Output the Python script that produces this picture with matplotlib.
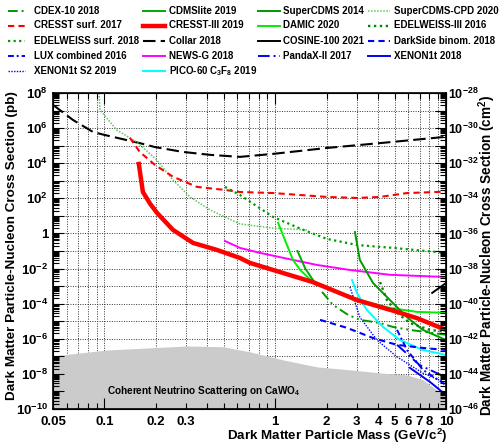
import matplotlib
matplotlib.use("Agg")
import matplotlib.pyplot as plt
from matplotlib.lines import Line2D

plt.rcParams['font.family'] = ['Liberation Sans', 'DejaVu Sans']
plt.rcParams['font.weight'] = 'bold'
plt.rcParams['mathtext.fontset'] = 'custom'
plt.rcParams['mathtext.rm'] = 'Liberation Sans:bold'
plt.rcParams['mathtext.it'] = 'Liberation Sans:bold'
plt.rcParams['mathtext.bf'] = 'Liberation Sans:bold'

# --- data: mass (GeV/c^2), cross section (pb) ---
collar_m = [0.05, 0.0655, 0.0858, 0.1, 0.161, 0.198, 0.288, 0.415, 0.622, 0.971, 2.01, 4.11, 10]
collar_s = [2.1e7, 2.9e6, 6.0e5, 4.1e5, 1.4e5, 8.3e4, 4.4e4, 3.0e4, 2.3e4, 3.4e4, 7.4e4, 1.4e5, 3.2e5]

cresst3_m = [0.159, 0.168, 0.185, 0.203, 0.252, 0.330, 0.456, 0.622, 0.711, 1.66, 3.01, 5.17, 6.76, 10]
cresst3_s = [9.1e3, 2.3e2, 50, 15, 1.6, 0.29, 0.115, 0.040, 0.021, 1.7e-3, 1.6e-4, 3.4e-5, 1.5e-5, 3.2e-6]

cresst_surf_m = [0.141, 0.161, 0.198, 0.252, 0.348, 0.508, 0.622, 0.971, 2.01, 3.01, 4.11, 5.91, 10]
cresst_surf_s = [2.8e5, 4.4e4, 7.9e3, 1.7e3, 4.5e2, 3.0e2, 2.3e2, 2.0e2, 1.2e2, 1.05e2, 1.2e2, 2.0e2, 2.4e2]

news_m = [0.508, 0.622, 0.815, 1.27, 1.76, 2.74, 4.70, 10]
news_s = [0.37, 0.15, 0.078, 0.031, 0.016, 8.3e-3, 4.4e-3, 3.3e-3]

cpd_m = [0.093, 0.0942, 0.118, 0.155, 0.203, 0.252, 0.317, 0.415, 0.522, 0.622, 0.971, 1.54]
cpd_s = [1e8, 1.1e7, 7.8e5, 1.6e5, 1.5e4, 1.1e3, 1.2e2, 22, 7.6, 3.5, 2.0, 1.6]

edw_surf_m = [0.508, 0.622, 0.971, 1.46, 2.01, 3.01, 4.90, 10]
edw_surf_s = [4.5e2, 1.55e2, 8.7, 1.6, 0.49, 0.22, 0.15, 0.078]

damic_m = [1.04, 1.27, 1.40, 1.66, 2.18, 3.13, 4.70, 6.76, 10]
damic_s = [4.0, 3.1e-2, 8.3e-3, 1.7e-3, 6.0e-4, 1.6e-4, 5.7e-5, 3.4e-5, 3.0e-5]

scdms14_m = [2.93, 3.13, 3.74, 4.70, 5.91, 7.33, 10]
scdms14_s = [1.2, 3.1e-2, 1.5e-3, 1.6e-4, 1.7e-5, 3.2e-6, 8.5e-7]

cdmslite_m = [1.35, 1.50, 1.71]
cdmslite_s = [1.0e-1, 1.0e-2, 1.5e-3]

cdex_m = [1.88, 2.18, 2.67, 3.13, 4.11, 4.90, 6.15, 10]
cdex_s = [4.7e-4, 8.5e-5, 2.3e-5, 1.2e-5, 7.9e-6, 4.7e-6, 3.2e-6, 1.7e-6]

edw3_m = [4.11, 4.51, 5.17, 6.15, 8.05, 10]
edw3_s = [1.7e-3, 1.6e-4, 3.0e-5, 7.9e-6, 3.2e-6, 2.5e-6]

pico_m = [2.82, 3.01, 3.44, 4.28, 5.38, 7.33, 10]
pico_s = [2.2e-3, 4.1e-4, 4.4e-5, 4.7e-6, 8.5e-7, 2.3e-7, 1.2e-7]

darkside_m = [1.83, 2.63, 3.74, 5.17, 7.33, 10]
darkside_s = [1.2e-5, 4.2e-6, 1.1e-6, 4.5e-7, 3.0e-7, 2.3e-7]

xe_s2_m = [2.74, 3.13, 3.94, 5.17, 7.33, 10]
xe_s2_s = [8.9e-4, 1.7e-5, 8.5e-7, 9.3e-8, 1.1e-8, 3.1e-9]

lux_m = [5.17, 5.91, 7.33, 10]
lux_s = [3.2e-6, 2.3e-7, 1.7e-8, 2.3e-9]

pandax_m = [5.17, 7.0, 10]
pandax_s = [4.5e-7, 3.2e-8, 6.3e-9]

xe1t_m = [6.15, 8.05, 10]
xe1t_s = [2.2e-8, 3.5e-9, 6.3e-10]

cosine_m = [8.3, 10]
cosine_s = [4.1e-4, 1.5e-3]

nu_m = [0.05, 0.104, 0.305, 0.494, 0.711, 1.11, 1.76, 2.74, 4.28, 5.91, 7.33, 8.86, 10]
nu_s = [1.05e-7, 2.3e-7, 3.9e-7, 3.5e-7, 1.8e-7, 6.3e-8, 2.5e-8, 1.7e-8, 1.1e-8, 8.7e-9, 4.6e-9, 1.2e-9, 4.9e-10]

xtick_major = [0.1, 1, 10]
xtick_major_lbl = ['0.1', '1', '10']
xtick_minor = [0.05, 0.06, 0.07, 0.08, 0.09, 0.2, 0.3, 0.4, 0.5, 0.6, 0.7, 0.8, 0.9,
               2, 3, 4, 5, 6, 7, 8, 9]
xtick_minor_lbl = ['0.05', '', '', '', '', '0.2', '0.3', '', '', '', '', '', '',
                   '2', '3', '4', '5', '6', '7', '8', '']
pb_exp = list(range(-10, 9))
cm_exp = list(range(-46, -27))

W, H = 499, 447
fig = plt.figure(figsize=(W / 100, H / 100), dpi=100)
ax = fig.add_axes([53 / W, 1 - 409 / H, 393 / W, 316 / H])
ax.set_xscale('log')
ax.set_yscale('log')
ax.set_xlim(0.05, 10)
ax.set_ylim(1e-10, 1e8)

# grid (dotted, below everything)
for xv in xtick_major + xtick_minor:
    ax.axvline(xv, color='#333333', lw=0.7, ls=(0, (1, 1.5)), zorder=0.5)
for e in pb_exp:
    ax.axhline(10.0 ** e, color='#333333', lw=0.7, ls=(0, (1, 1.5)), zorder=0.5)

ax.fill_between(nu_m, 1e-10, nu_s, color='#cbcbcb', lw=0, zorder=1)
ax.text(0.104, 1.1e-9, 'Coherent Neutrino Scattering on CaWO$_4$', fontsize=7.2,
        fontweight='bold', va='center', ha='left', zorder=3)

styles = {}
def curve(m, s, label, **kw):
    kw.setdefault('lw', 1.4)
    ax.plot(m, s, zorder=2, **kw)
    styles[label] = kw

curve(collar_m, collar_s, 'Collar 2018', color='black', lw=1.5, ls=(0, (6, 2.5)))
curve(cpd_m, cpd_s, 'SuperCDMS-CPD 2020', color='#55cc55', lw=1.1, ls=(0, (1, 1)))
curve(cresst_surf_m, cresst_surf_s, 'CRESST surf. 2017', color='red', lw=1.5, ls=(0, (3, 2)))
curve(edw_surf_m, edw_surf_s, 'EDELWEISS surf. 2018', color='#009900', lw=1.6, ls=(0, (1, 1.5)))
curve(news_m, news_s, 'NEWS-G 2018', color='#ff00ff')
curve(damic_m, damic_s, 'DAMIC 2020', color='#00ee00')
curve(cdmslite_m, cdmslite_s, 'CDMSlite 2019', color='#00aa00')
curve(scdms14_m, scdms14_s, 'SuperCDMS 2014', color='#009900')
curve(cdex_m, cdex_s, 'CDEX-10 2018', color='#009900', ls=(0, (5, 2, 1, 2, 1, 2)))
curve(edw3_m, edw3_s, 'EDELWEISS-III 2016', color='#008800', lw=1.7, ls=(0, (1, 1.5)))
curve(pico_m, pico_s, 'PICO-60 C$_3$F$_8$ 2019', color='#00ffff')
curve(darkside_m, darkside_s, 'DarkSide binom. 2018', color='blue', lw=1.5, ls=(0, (3, 2)))
curve(xe_s2_m, xe_s2_s, 'XENON1t S2 2019', color='blue', lw=1.0, ls=(0, (1, 1)))
curve(lux_m, lux_s, 'LUX combined 2016', color='blue', ls=(0, (3, 1.5, 1, 1.5)))
curve(pandax_m, pandax_s, 'PandaX-II 2017', color='blue', ls=(0, (6, 2, 1, 2)))
curve(xe1t_m, xe1t_s, 'XENON1t 2018', color='blue')
curve(cosine_m, cosine_s, 'COSINE-100 2021', color='black')
curve(cresst3_m, cresst3_s, 'CRESST-III 2019', color='red', lw=3.2)

# ticks
ax.set_xticks(xtick_major, xtick_major_lbl)
ax.set_xticks(xtick_minor, xtick_minor_lbl, minor=True)
ax.set_yticks([10.0 ** e for e in pb_exp],
              [('1' if e == 0 else '$10^{%d}$' % e) if e % 2 == 0 else '' for e in pb_exp])
ax.set_yticks([k * 10.0 ** e for e in pb_exp[:-1] for k in range(2, 10)], minor=True)
ax.tick_params(which='both', direction='in', top=True, right=False, labelsize=9.5, width=0.8)
ax.tick_params(which='major', length=8)
ax.tick_params(which='minor', length=4)
ax.tick_params(axis='x', which='both', pad=5)
for sp in ax.spines.values():
    sp.set_linewidth(1.2)

ax2 = ax.twinx()
ax2.set_yscale('log')
ax2.set_ylim(1e-46, 1e-28)
ax2.set_yticks([10.0 ** e for e in cm_exp],
               ['$10^{%d}$' % e if e % 2 == 0 else '' for e in cm_exp])
ax2.set_yticks([k * 10.0 ** e for e in cm_exp[:-1] for k in range(2, 10)], minor=True,
               labels=[])
ax2.tick_params(which='both', direction='in', labelsize=9, width=0.8, pad=1.5)
ax2.tick_params(which='major', length=8)
ax2.tick_params(which='minor', length=4)

fig.text(12 / W, 1 - 246 / H, 'Dark Matter Particle-Nucleon Cross Section (pb)',
         rotation=90, ha='center', va='center', fontsize=9.7, fontweight='bold')
fig.text(487 / W, 1 - 255 / H, 'Dark Matter Particle-Nucleon Cross Section (cm$^2$)',
         rotation=90, ha='center', va='center', fontsize=9.8, fontweight='bold')
fig.text(447 / W, 1 - 436 / H, 'Dark Matter Particle Mass (GeV/c$^2$)',
         ha='right', va='center', fontsize=9.6, fontweight='bold')

# legend (4 columns, ROOT-like layout)
legend_cols = [
    ['CDEX-10 2018', 'CRESST surf. 2017', 'EDELWEISS surf. 2018', 'LUX combined 2016', 'XENON1t S2 2019'],
    ['CDMSlite 2019', 'CRESST-III 2019', 'Collar 2018', 'NEWS-G 2018', 'PICO-60 C$_3$F$_8$ 2019'],
    ['SuperCDMS 2014', 'DAMIC 2020', 'COSINE-100 2021', 'PandaX-II 2017'],
    ['SuperCDMS-CPD 2020', 'EDELWEISS-III 2016', 'DarkSide binom. 2018', 'XENON1t 2018'],
]
col_x = [(8, 25, 34), (143, 165, 169), (258, 280, 283), (368, 390, 394)]
row_y = [11, 25.5, 41, 56, 71]
for (x0, x1, xt), col in zip(col_x, legend_cols):
    for y, lab in zip(row_y, col):
        st = styles[lab]
        fig.add_artist(Line2D([x0 / W, x1 / W], [1 - y / H, 1 - y / H], transform=fig.transFigure, **st))
        fig.text(xt / W, 1 - y / H, lab, fontsize=7, fontweight='bold', va='center', ha='left')

fig.savefig('out.png', dpi=100)
